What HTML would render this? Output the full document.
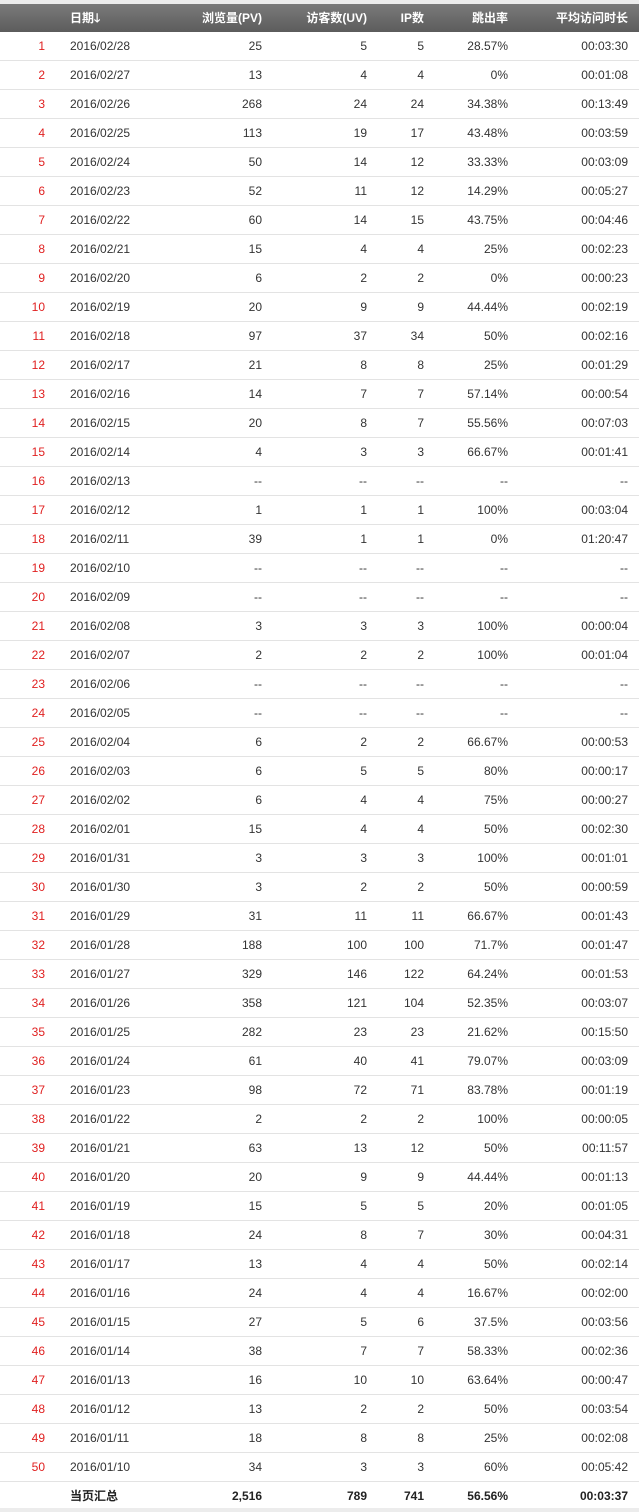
<!DOCTYPE html>
<html><head><meta charset="utf-8"><style>
body{margin:0;width:639px;height:1512px;background:#fff;font-family:"Liberation Sans","Noto Sans CJK SC",sans-serif;font-size:12px;color:#333;overflow:hidden;position:relative}
.top{position:absolute;left:0;top:0;width:639px;height:4px;background:#ececec}
.hdr{position:absolute;left:0;top:4px;width:639px;height:28px;background:linear-gradient(#7a7a7a,#5c5c5c);color:#fff;font-weight:bold}
.row{position:absolute;left:0;width:639px;height:28px;border-bottom:1px solid #e3e3e3}
.c{position:absolute;top:0;line-height:28px;white-space:nowrap}
.r{text-align:right}
.idx{color:#e02020}
.foot{font-weight:bold;color:#222}
.bot{position:absolute;left:0;top:1508px;width:639px;height:4px;background:#ececec}
</style></head><body>
<div class="top"></div>
<div class="hdr">
<div class="c" style="left:70px">日期🡓</div>
<div class="c r" style="right:377px">浏览量(PV)</div>
<div class="c r" style="right:272px">访客数(UV)</div>
<div class="c r" style="right:215px">IP数</div>
<div class="c r" style="right:131px">跳出率</div>
<div class="c r" style="right:11px">平均访问时长</div>
</div>
<div id="rows"></div>
<div class="bot"></div>
<script>
const dates=["2016/02/28","2016/02/27","2016/02/26","2016/02/25","2016/02/24","2016/02/23","2016/02/22","2016/02/21","2016/02/20","2016/02/19","2016/02/18","2016/02/17","2016/02/16","2016/02/15","2016/02/14","2016/02/13","2016/02/12","2016/02/11","2016/02/10","2016/02/09","2016/02/08","2016/02/07","2016/02/06","2016/02/05","2016/02/04","2016/02/03","2016/02/02","2016/02/01","2016/01/31","2016/01/30","2016/01/29","2016/01/28","2016/01/27","2016/01/26","2016/01/25","2016/01/24","2016/01/23","2016/01/22","2016/01/21","2016/01/20","2016/01/19","2016/01/18","2016/01/17","2016/01/16","2016/01/15","2016/01/14","2016/01/13","2016/01/12","2016/01/11","2016/01/10"];
const pv=["25","13","268","113","50","52","60","15","6","20","97","21","14","20","4","--","1","39","--","--","3","2","--","--","6","6","6","15","3","3","31","188","329","358","282","61","98","2","63","20","15","24","13","24","27","38","16","13","18","34"];
const uv=["5","4","24","19","14","11","14","4","2","9","37","8","7","8","3","--","1","1","--","--","3","2","--","--","2","5","4","4","3","2","11","100","146","121","23","40","72","2","13","9","5","8","4","4","5","7","10","2","8","3"];
const ip=["5","4","24","17","12","12","15","4","2","9","34","8","7","7","3","--","1","1","--","--","3","2","--","--","2","5","4","4","3","2","11","100","122","104","23","41","71","2","12","9","5","7","4","4","6","7","10","2","8","3"];
const bounce=["28.57%","0%","34.38%","43.48%","33.33%","14.29%","43.75%","25%","0%","44.44%","50%","25%","57.14%","55.56%","66.67%","--","100%","0%","--","--","100%","100%","--","--","66.67%","80%","75%","50%","100%","50%","66.67%","71.7%","64.24%","52.35%","21.62%","79.07%","83.78%","100%","50%","44.44%","20%","30%","50%","16.67%","37.5%","58.33%","63.64%","50%","25%","60%"];
const dur=["00:03:30","00:01:08","00:13:49","00:03:59","00:03:09","00:05:27","00:04:46","00:02:23","00:00:23","00:02:19","00:02:16","00:01:29","00:00:54","00:07:03","00:01:41","--","00:03:04","01:20:47","--","--","00:00:04","00:01:04","--","--","00:00:53","00:00:17","00:00:27","00:02:30","00:01:01","00:00:59","00:01:43","00:01:47","00:01:53","00:03:07","00:15:50","00:03:09","00:01:19","00:00:05","00:11:57","00:01:13","00:01:05","00:04:31","00:02:14","00:02:00","00:03:56","00:02:36","00:00:47","00:03:54","00:02:08","00:05:42"];
const totals=["当页汇总","2,516","789","741","56.56%","00:03:37"];
const host=document.getElementById('rows');
function cell(row,txt,style,cls,name){const d=document.createElement('div');d.className='c '+cls;d.style.cssText=style;d.textContent=txt;


row.appendChild(d);}
dates.forEach((dt,i)=>{const r=document.createElement('div');r.className='row';r.style.top=(32+i*29)+'px';


cell(r,String(i+1),'right:594px','r idx','row-index');
cell(r,dt,'left:70px','','date-cell');
cell(r,pv[i],'right:377px','r','pv-cell');
cell(r,uv[i],'right:272px','r','uv-cell');
cell(r,ip[i],'right:215px','r','ip-cell');
cell(r,bounce[i],'right:131px','r','bounce-cell');
cell(r,dur[i],'right:11px','r','duration-cell');
host.appendChild(r);});
const f=document.createElement('div');f.className='row foot';f.style.top=(32+50*29)+'px';f.style.borderBottom='none';


cell(f,totals[0],'left:70px','','totals-label');
cell(f,totals[1],'right:377px','r','total-pv');
cell(f,totals[2],'right:272px','r','total-uv');
cell(f,totals[3],'right:215px','r','total-ip');
cell(f,totals[4],'right:131px','r','total-bounce');
cell(f,totals[5],'right:11px','r','total-duration');
host.appendChild(f);
</script>
</body></html>
